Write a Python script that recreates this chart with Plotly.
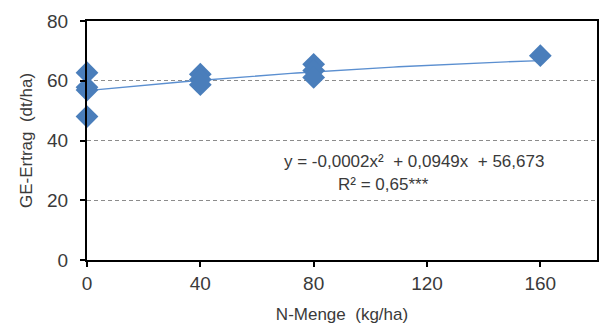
import numpy as np
import plotly.graph_objects as go

# Data
n_menge = [0, 0, 0, 0, 40, 40, 40, 80, 80, 80, 160]
ertrag = [62.7, 57.8, 56.9, 48.0, 62.2, 60.4, 58.7, 65.5, 63.4, 61.1, 68.4]

# Trend line coefficients (as displayed)
coef_a = -0.0002
coef_b = 0.0949
coef_c = 56.673
trend_x = np.linspace(0, 160, 81)
trend_y = coef_a * trend_x**2 + coef_b * trend_x + coef_c

x_ticks = [0, 40, 80, 120, 160]
y_ticks = [0, 20, 40, 60, 80]

eq_line1 = "y = -0,0002x²  + 0,0949x  + 56,673"
eq_line2 = "R² = 0,65***"

font_family = "Arial, Liberation Sans, sans-serif"
text_color = "#3a3a3a"

L, R, T, B = 87, 3, 21, 69
W, H = 602, 329
pw, ph = W - L - R, H - T - B


def px_to_paper(px, py):
    return (px - L) / pw, 1 - (py - T) / ph


fig = go.Figure()
fig.add_trace(go.Scatter(
    x=trend_x, y=trend_y, mode="lines",
    line=dict(color="#5b8fd0", width=1.3),
    hoverinfo="skip", showlegend=False, cliponaxis=False,
))
fig.add_trace(go.Scatter(
    x=n_menge, y=ertrag, mode="markers",
    marker=dict(symbol="diamond", size=17.5, color="#4a7ebb", line=dict(width=0)),
    showlegend=False, cliponaxis=False,
))

ax1, ay1 = px_to_paper(415, 161)
ax2, ay2 = px_to_paper(385, 184)
fig.add_annotation(x=ax1, y=ay1, xref="paper", yref="paper", text=eq_line1,
                   xanchor="center", yanchor="middle",
                   showarrow=False, font=dict(size=17, color=text_color, family=font_family))
fig.add_annotation(x=ax2, y=ay2, xref="paper", yref="paper", text=eq_line2,
                   xanchor="center", yanchor="middle",
                   showarrow=False, font=dict(size=17, color=text_color, family=font_family))

fig.update_layout(
    width=W, height=H,
    margin=dict(l=L, r=R, t=T, b=B),
    paper_bgcolor="white", plot_bgcolor="white",
    font=dict(family=font_family, size=19, color=text_color),
    xaxis=dict(
        range=[0, 180], tickvals=x_ticks, ticktext=[str(v) for v in x_ticks],
        showline=True, linecolor="black", linewidth=2, mirror=True,
        ticks="outside", ticklen=5, tickcolor="black", tickwidth=2,
        showgrid=False, zeroline=False,
        title=dict(text="N-Menge  (kg/ha)", font=dict(size=17), standoff=15),
        tickfont=dict(size=19),
    ),
    yaxis=dict(
        range=[0, 80], tickvals=y_ticks, ticktext=[str(v) for v in y_ticks],
        showline=True, linecolor="black", linewidth=2, mirror=True,
        ticks="outside", ticklen=5, tickcolor="black", tickwidth=2,
        ticklabelstandoff=8,
        showgrid=True, gridcolor="#8c8c8c", gridwidth=1, griddash="4px,3px",
        zeroline=False,
        title=dict(text="GE-Ertrag  (dt/ha)", font=dict(size=17), standoff=10),
        tickfont=dict(size=19),
    ),
)

fig.write_html("out.html")
